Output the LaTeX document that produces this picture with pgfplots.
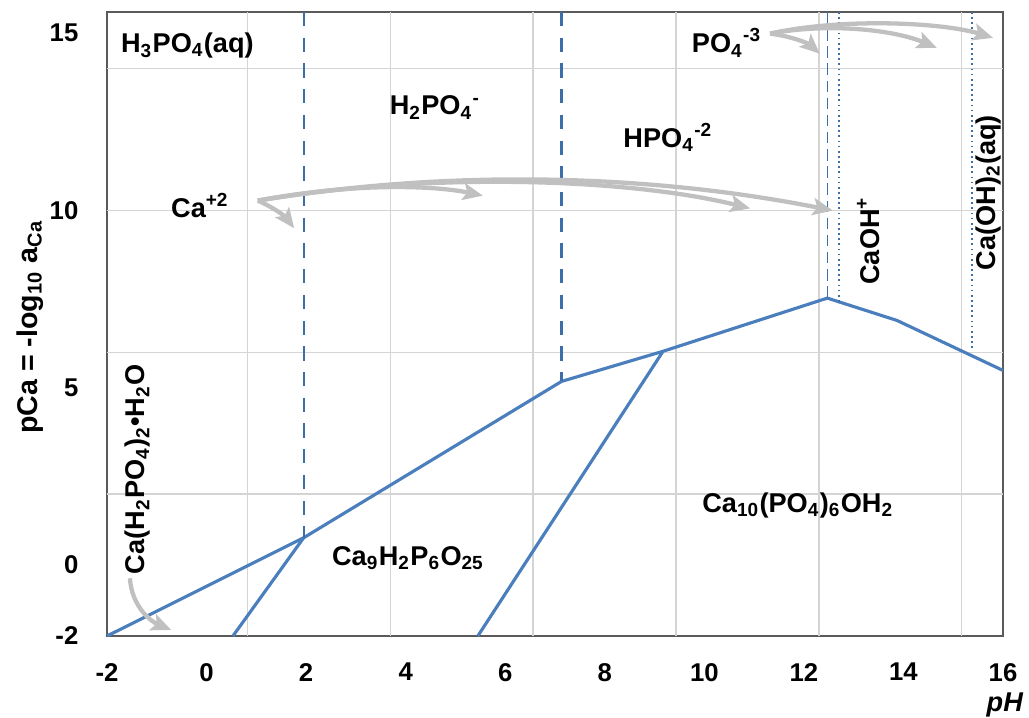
\documentclass[border=0pt]{standalone}
\usepackage{fontspec}
\setmainfont{Liberation Sans}
\usepackage{pgfplots}
\pgfplotsset{compat=1.18}
\usetikzlibrary{arrows.meta,calc}

\definecolor{lineblue}{RGB}{74,126,189}
\definecolor{dashblue}{RGB}{60,110,170}
\definecolor{gridgray}{RGB}{212,212,212}
\definecolor{framegray}{RGB}{90,90,90}
\definecolor{arrowgray}{RGB}{192,192,192}

\newcommand{\chem}{\fontsize{9.5}{11}\selectfont\bfseries}
\newcommand{\sub}[1]{\textsubscript{#1}}
\newcommand{\sups}[1]{\textsuperscript{#1}}

\begin{document}
\begin{tikzpicture}[
  garrow/.style={draw=arrowgray, line width=1.5pt, -{Stealth[length=7pt,width=6pt,inset=1.5pt]}}
]
\begin{axis}[
  name=ax,
  scale only axis, width=313.6pt, height=218.4pt,
  xmin=-2, xmax=16, ymin=-2, ymax=15.6,
  xtick={-2,0,...,16}, ytick={-2,0,5,10,15},
  tick style={draw=none},
  /pgf/number format/assume math mode=true,
  tick label style={font=\fontsize{9}{10}\selectfont\bfseries},
  xticklabel style={yshift=-6pt},
  yticklabel style={xshift=-6.5pt},
  extra x ticks={0.82,3.69,6.56,9.43,12.30,15.17},
  extra x tick labels={},
  extra x tick style={grid=major},
  extra y ticks={2,6,10,14},
  extra y tick labels={},
  extra y tick style={grid=major},
  major grid style={draw=gridgray, line width=0.5pt},
  axis line style={draw=framegray, line width=0.9pt},
  xlabel={\bfseries\itshape pH},
  xlabel style={font=\fontsize{9.5}{11}\selectfont, at={(axis description cs:1.002,-0.111)}, anchor=center},
  ylabel={pCa = -log\sub{10} a\sub{Ca}},
  ylabel style={font=\fontsize{10}{12}\selectfont\bfseries, at={(axis description cs:-0.086,0.495)}, anchor=center},
]
% solubility boundaries
\addplot[lineblue, line width=1.1pt] coordinates {(-2,-2) (1.95,0.77) (7.13,5.18) (9.17,6.03) (12.47,7.53) (13.87,6.90) (16,5.49)};
\addplot[lineblue, line width=1.1pt] coordinates {(0.53,-2) (1.95,0.77)};
\addplot[lineblue, line width=1.1pt] coordinates {(5.45,-2) (9.17,6.03)};

% species boundaries
\addplot[dashblue, line width=0.75pt, dash pattern=on 5pt off 4pt] coordinates {(1.95,15.6) (1.95,0.77)};
\addplot[dashblue, line width=0.75pt, dash pattern=on 5pt off 4pt] coordinates {(7.13,15.6) (7.13,5.18)};
\addplot[dashblue, line width=0.5pt, dash pattern=on 4pt off 2pt] coordinates {(12.47,15.6) (12.47,7.53)};
\addplot[dashblue, line width=0.6pt, dash pattern=on 0.6pt off 1.2pt] coordinates {(12.70,15.6) (12.70,7.43)};
\addplot[dashblue, line width=0.6pt, dash pattern=on 0.6pt off 1.2pt] coordinates {(15.38,15.6) (15.38,6.11)};

% grey arrows
\draw[garrow] (axis cs:1.03,10.28) .. controls (axis cs:1.4,10.05) and (axis cs:1.6,9.8) .. (axis cs:1.76,9.5);
\draw[garrow] (axis cs:1.03,10.28) .. controls (axis cs:3,10.8) and (axis cs:4.6,10.7) .. (axis cs:5.55,10.42);
\draw[garrow] (axis cs:1.03,10.28) .. controls (axis cs:4.5,11.1) and (axis cs:8.5,10.9) .. (axis cs:10.92,10.06);
\draw[garrow] (axis cs:1.03,10.28) .. controls (axis cs:5,11.2) and (axis cs:9,11.0) .. (axis cs:12.58,10.0);
\draw[garrow] (axis cs:11.32,14.99) .. controls (axis cs:11.8,14.9) and (axis cs:12.1,14.7) .. (axis cs:12.32,14.42);
\draw[garrow] (axis cs:11.32,14.99) .. controls (axis cs:12.5,15.3) and (axis cs:13.8,15.1) .. (axis cs:14.67,14.59);
\draw[garrow] (axis cs:11.32,14.99) .. controls (axis cs:12.8,15.45) and (axis cs:14.8,15.3) .. (axis cs:15.80,14.87);
\draw[garrow] (axis cs:-1.54,-0.37) .. controls (axis cs:-1.5,-1.2) and (axis cs:-1.1,-1.6) .. (axis cs:-0.71,-1.83);

% labels
\node[anchor=west, font=\chem] at (axis cs:-1.92,14.65) {H\sub{3}PO\sub{4}(aq)};
\node[font=\chem] at (axis cs:4.59,12.90) {H\sub{2}PO\sub{4}\sups{-}};
\node[font=\chem] at (axis cs:9.27,12.06) {HPO\sub{4}\sups{-2}};
\node[font=\chem] at (axis cs:10.45,14.73) {PO\sub{4}\sups{-3}};
\node[font=\chem] at (axis cs:-0.13,10.14) {Ca\sups{+2}};
\node[font=\chem, rotate=90] at (axis cs:13.29,9.15) {CaOH\sups{+}};
\node[font=\chem, rotate=90] at (axis cs:15.70,10.5) {Ca(OH)\sub{2}(aq)};
\node[font=\chem, rotate=90] at (axis cs:-1.38,2.70) {Ca(H\sub{2}PO\sub{4})\sub{2}•H\sub{2}O};
\node[font=\chem] at (axis cs:4.05,0.20) {Ca\sub{9}H\sub{2}P\sub{6}O\sub{25}};
\node[font=\chem] at (axis cs:11.88,1.69) {Ca\sub{10}(PO\sub{4})\sub{6}OH\sub{2}};
\end{axis}
\pgfresetboundingbox
\path[use as bounding box] ($(ax.south west)+(-37.45pt,-28.35pt)$) rectangle ($(ax.north east)+(9.1pt,4.2pt)$);
\end{tikzpicture}
\end{document}
